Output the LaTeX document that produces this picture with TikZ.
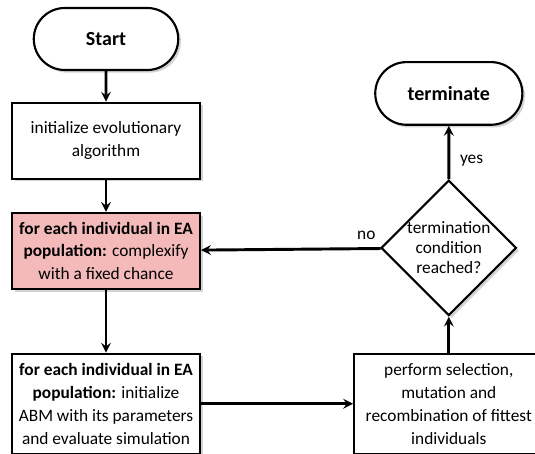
\documentclass[tikz,border=0pt]{standalone}
\usepackage{fontspec}
\setmainfont{Carlito}
\usepackage{tikz}
\usetikzlibrary{shapes,arrows,positioning,shadows}
\usepackage{xcolor}
\definecolor{loopred}{RGB}{244,186,186}

\begin{document}
\begin{tikzpicture}[
        node distance=24pt,
        every node/.style={font=\fontsize{13}{17.2}\selectfont},
        shade/.style={drop shadow={opacity=0.35, shadow xshift=2pt, shadow yshift=-2pt}},
        term/.style={draw, rounded rectangle, line width=1.6pt, fill=white, shade, minimum width=115pt, minimum height=46.5pt, font=\fontsize{15}{18}\selectfont\bfseries},
        box/.style={draw, rectangle, line width=1.6pt, fill=white, shade, minimum width=141pt, minimum height=57pt, inner sep=2pt, align=center},
        decision/.style={draw, diamond, aspect=1, line width=1.6pt, fill=white, shade, minimum size=97pt, inner sep=0pt, align=center, font=\fontsize{13}{15}\selectfont},
        arrow/.style={->, >=stealth, line width=2.2pt}
    ]
        \useasboundingbox (0,0) rectangle (401.25pt,-339.75pt);

        % Left column - top to bottom
        \node[term] (start) at (79.5pt,-29.25pt) {Start};
        \node[box, below=23pt of start] (init) {initialize evolutionary\\algorithm};
        \node[box, below=24pt of init, fill=loopred] (complex) {\textbf{for each individual in EA}\\\textbf{population:} complexify\\with a fixed chance};
        \node[box, below=47pt of complex, minimum height=75pt] (evaluate) {\textbf{for each individual in EA}\\\textbf{population:} initialize\\ABM with its parameters\\and evaluate simulation};

        % Right column - bottom to top
        \node[box, right=114pt of evaluate, minimum width=142pt, minimum height=75pt] (select) {perform selection,\\mutation and\\recombination of fittest\\individuals};
        \node[decision, above=27pt of select] (check) {termination\\condition\\reached?};
        \node[term, above=40pt of check, minimum width=117pt, minimum height=47pt] (stop) {terminate};

        % Arrows
        \draw[arrow] (start) -- (init);
        \draw[arrow] (init) -- (complex);
        \draw[arrow] (complex) -- (evaluate);
        \draw[arrow] (evaluate) -- (select);
        \draw[arrow] (select) -- (check);
        \draw[arrow] (check) -- node[right, pos=0.35, xshift=4pt] {yes} (stop);
        \draw[arrow] (check) -- node[above, pos=0.08, yshift=2pt] {no} (complex);
    \end{tikzpicture}
\end{document}
